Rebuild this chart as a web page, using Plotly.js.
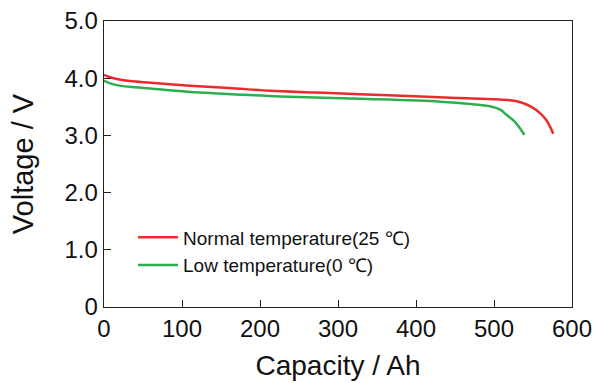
<!DOCTYPE html>
<html>
<head>
<meta charset="utf-8">
<script src="https://cdn.plot.ly/plotly-3.0.1.min.js"></script>
<style>html,body{margin:0;padding:0;background:#fff;}#chart{width:597px;height:383px;}</style>
</head>
<body>
<div id="chart"></div>
<script>
// Normal temperature (25 ℃)
const normalCapacity = [0, 5, 15, 33, 60, 110, 160, 213, 270, 328, 390, 444, 500, 520, 533, 548, 559, 567, 572, 576];
const normalVoltage  = [4.06, 4.03, 3.99, 3.95, 3.92, 3.87, 3.83, 3.78, 3.75, 3.72, 3.69, 3.66, 3.63, 3.615, 3.585, 3.50, 3.39, 3.27, 3.15, 3.03];
// Low temperature (0 ℃)
const lowCapacity = [0, 8, 20, 40, 59, 123, 180, 226, 328, 431, 470, 495, 508, 516, 526, 533, 539];
const lowVoltage  = [3.96, 3.91, 3.87, 3.84, 3.82, 3.75, 3.71, 3.68, 3.64, 3.59, 3.55, 3.51, 3.45, 3.36, 3.25, 3.13, 3.01];

const seriesNames = ["Normal temperature(25 \u2103)", "Low temperature(0 \u2103)"];
const xTickVals = [0, 100, 200, 300, 400, 500, 600];
const yTickVals = [0, 1, 2, 3, 4, 5];
const yTickText = ["0", "1.0", "2.0", "3.0", "4.0", "5.0"];

const traces = [
  {x: normalCapacity, y: normalVoltage, name: seriesNames[0], mode: "lines", legendgroup: "a",
   line: {color: "#ec2a2c", width: 2.5, shape: "spline"}},
  {x: lowCapacity, y: lowVoltage, name: seriesNames[1], mode: "lines", legendgroup: "b",
   line: {color: "#2fae4f", width: 2.5, shape: "spline"}}
];

const font = "Liberation Sans, Arial, sans-serif";
const layout = {
  width: 597, height: 383,
  margin: {l: 104, r: 25, t: 21, b: 76},
  paper_bgcolor: "#fff", plot_bgcolor: "#fff",
  font: {family: font, color: "#111"},
  showlegend: true,
  legend: {x: 0.062, y: 0.31, xanchor: "left", yanchor: "top", traceorder: "grouped",
           font: {size: 19, family: font, color: "#111"},
           bgcolor: "rgba(0,0,0,0)", tracegroupgap: 0, itemwidth: 40},
  xaxis: {range: [0, 600], tickvals: xTickVals, ticks: "inside", ticklen: 7,
          tickcolor: "#222", showline: true, linecolor: "#222", linewidth: 1.3, mirror: true,
          showgrid: false, zeroline: false, tickfont: {size: 24, family: font, color: "#111"},
          title: {text: "Capacity / Ah", font: {size: 28, family: font, color: "#111"}, standoff: 14}},
  yaxis: {range: [0, 5], tickvals: yTickVals, ticktext: yTickText, ticks: "inside", ticklen: 7,
          tickcolor: "#222", showline: true, linecolor: "#222", linewidth: 1.3, mirror: true,
          showgrid: false, zeroline: false, tickfont: {size: 24, family: font, color: "#111"},
          title: {text: "Voltage / V", font: {size: 29, family: font, color: "#111"}, standoff: 22}}
};

Plotly.newPlot("chart", traces, layout, {displayModeBar: false, staticPlot: true});
</script>
</body>
</html>
